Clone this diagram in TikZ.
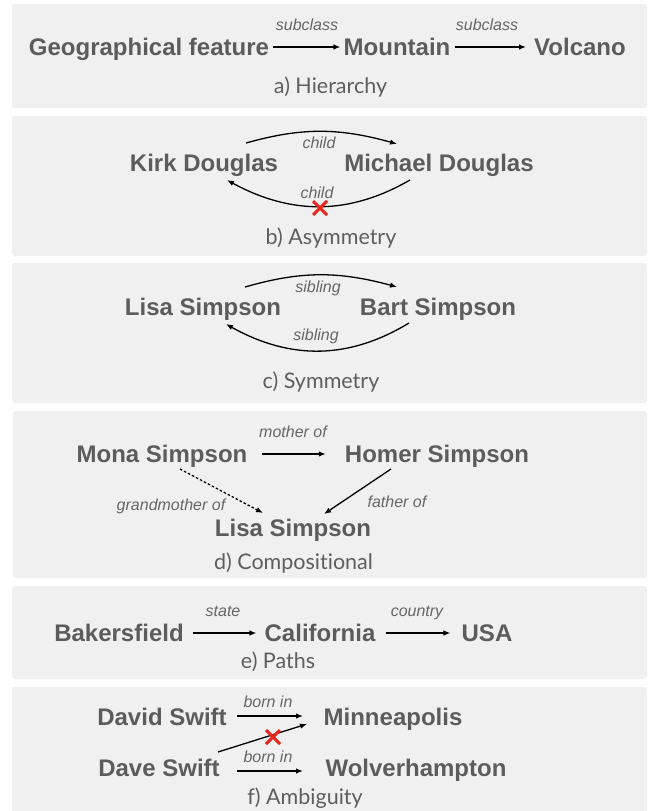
\documentclass[tikz,border=0pt]{standalone}
\usepackage{fontspec}
\setmainfont{Liberation Sans}
\newfontfamily\capfont[Ligatures=NoCommon]{Lato}
\usetikzlibrary{arrows.meta,bending,shapes.misc}
\definecolor{panelgray}{HTML}{F0F0F0}
\definecolor{txtgray}{HTML}{5C5C5C}
\definecolor{lblgray}{HTML}{666666}
\definecolor{capgray}{HTML}{5E5E5E}
\definecolor{xred}{HTML}{E8261C}
\begin{document}
\begin{tikzpicture}[x=1pt,y=-1pt,
  panel/.style={fill=panelgray, rounded corners=3pt, draw=none},
  ent/.style={font=\fontsize{24}{24}\selectfont\bfseries, text=txtgray, inner sep=0pt, text height=17pt, text depth=0pt},
  rel/.style={font=\fontsize{16}{16}\selectfont\itshape, text=lblgray, inner sep=0pt, text height=11.5pt, text depth=0pt},
  capn/.style={font=\capfont\fontsize{21.5}{21.5}\selectfont, text=capgray, inner sep=0pt, text height=15.4pt, text depth=0pt},
  link/.style={-{Latex[length=7pt,width=5.5pt]}, line width=1.3pt, black},
  nope/.style={cross out, draw=xred, line width=3pt, minimum size=14pt, inner sep=0pt, outer sep=0pt},
]
\useasboundingbox (0,0) rectangle (649,811);
\fill[white] (0,0) rectangle (649,811);

% panels
\fill[panel] (12,4) rectangle (647,108);
\fill[panel] (12,116) rectangle (647,256);
\fill[panel] (12,263) rectangle (647,403);
\fill[panel] (13,411) rectangle (647,578);
\fill[panel] (12,586) rectangle (647,679);
\fill[panel] (12,687) rectangle (647,818);

% a) Hierarchy
\node[ent] (geo) at (149,47) {Geographical feature};
\node[ent] (mountain) at (397,47) {Mountain};
\node[ent] (volcano) at (580,47) {Volcano};
\draw[link, shorten <=4pt, shorten >=3pt] (geo.east) -- (mountain.west);
\draw[link, shorten <=4pt, shorten >=8pt] (mountain.east) -- (volcano.west);
\node[rel] (sub1) at (307,25) {subclass};
\node[rel] (sub2) at (487,25) {subclass};
\node[capn] (capa) at (330.5,86) {a) Hierarchy};

% b) Asymmetry
\node[ent] (kirk) at (204,163) {Kirk Douglas};
\node[ent] (michael) at (439,163) {Michael Douglas};
\coordinate (kb1) at (246,143);
\coordinate (mb1) at (397,144);
\coordinate (mb2) at (410,180);
\coordinate (kb2) at (227,180);
\draw[link] (kb1) to[bend left=16] (mb1);
\draw[link] (mb2) to[bend left=30] (kb2);
\node[rel] (childa) at (319,143) {child};
\node[rel] (childb) at (317,193) {child};
\node[nope] (xb) at (320,208) {};
\node[capn] (capb) at (331,237) {b) Asymmetry};

% c) Symmetry
\node[ent] (lisa) at (203,307) {Lisa Simpson};
\node[ent] (bart) at (438,307) {Bart Simpson};
\coordinate (lc1) at (245,287);
\coordinate (bc1) at (397,287);
\coordinate (bc2) at (409,323);
\coordinate (lc2) at (226,324);
\draw[link] (lc1) to[bend left=16] (bc1);
\draw[link] (bc2) to[bend left=31] (lc2);
\node[rel] (siba) at (318,287) {sibling};
\node[rel] (sibb) at (316,335) {sibling};
\node[capn] (capc) at (321,381) {c) Symmetry};

% d) Compositional
\node[ent] (mona) at (162,454) {Mona Simpson};
\node[ent] (homer) at (437,454) {Homer Simpson};
\node[ent] (lisad) at (293,528) {Lisa Simpson};
\draw[link, shorten <=14pt, shorten >=19pt] (mona.east) -- (homer.west);
\node[rel] (mother) at (293,432) {mother of};
\coordinate (md1) at (180,469);
\coordinate (ld1) at (263,513);
\coordinate (hd1) at (391,469);
\coordinate (ld2) at (324,514);
\draw[link, dash pattern=on 2.5pt off 2pt] (md1) -- (ld1);
\draw[link] (hd1) -- (ld2);
\node[rel] (grand) at (171,505) {grandmother of};
\node[rel] (father) at (397,502) {father of};
\node[capn] (capd) at (293.5,562) {d) Compositional};

% e) Paths
\node[ent] (baker) at (119,633) {Bakersfield};
\node[ent] (calif) at (320,633) {California};
\node[ent] (usa) at (487,633) {USA};
\draw[link, shorten <=9pt, shorten >=8pt] (baker.east) -- (calif.west);
\draw[link, shorten <=10pt, shorten >=11pt] (calif.east) -- (usa.west);
\node[rel] (state) at (223,611) {state};
\node[rel] (country) at (417,611) {country};
\node[capn] (cape) at (278,661) {e) Paths};

% f) Ambiguity
\node[ent] (david) at (162,717) {David Swift};
\node[ent] (minne) at (393,717) {Minneapolis};
\node[ent] (dave) at (159,768) {Dave Swift};
\node[ent] (wolver) at (416,768) {Wolverhampton};
\coordinate (df1) at (237,716);
\coordinate (mf1) at (303,716);
\coordinate (df2) at (237,771);
\coordinate (wf1) at (303,771);
\coordinate (df3) at (218,752);
\coordinate (mf2) at (307,724);
\draw[link] (df1) -- (mf1);
\draw[link] (df2) -- (wf1);
\draw[link] (df3) -- (mf2);
\node[rel] (borna) at (268,702) {born in};
\node[rel] (bornb) at (268,757) {born in};
\node[nope] (xf) at (273,737) {};
\node[capn] (capf) at (305,797) {f) Ambiguity};
\end{tikzpicture}
\end{document}
